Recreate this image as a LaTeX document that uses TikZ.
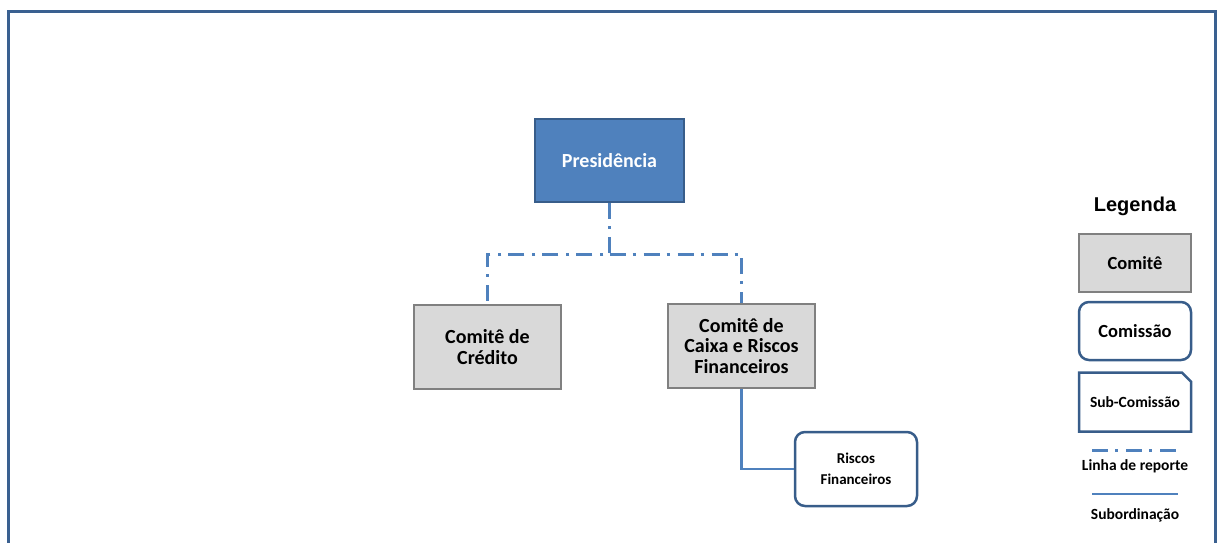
\documentclass[tikz,border=0pt]{standalone}
\usepackage{fontspec}
\setmainfont{Carlito}
\newfontfamily\legfont{Liberation Sans}
\usetikzlibrary{shapes.misc}

\definecolor{presfill}{HTML}{4F81BD}
\definecolor{presline}{HTML}{385D8A}
\definecolor{comfill}{HTML}{D9D9D9}
\definecolor{comline}{HTML}{808080}
\definecolor{linkblue}{HTML}{4F81BD}
\definecolor{framebl}{HTML}{3A6090}

\tikzset{
	comite/.style={rectangle, draw=comline, fill=comfill, line width=2.5pt, align=center, font=\bfseries\fontsize{20}{20.5}\selectfont},
	comissao/.style={rectangle, rounded corners=10pt, draw=presline, fill=white, line width=2.5pt, align=center, font=\bfseries},
	subcom/.style={chamfered rectangle, chamfered rectangle corners={north east}, chamfered rectangle xsep=6pt, draw=presline, fill=white, line width=2.5pt, align=center, font=\bfseries},
	reporte/.style={linkblue, line width=3pt, dash pattern=on 16pt off 7pt on 3pt off 8pt},
	subord/.style={linkblue, line width=2.5pt}
}

\begin{document}
\begin{tikzpicture}[x=1pt, y=-1pt]
	
	\useasboundingbox (0, 0) rectangle (1222, 542);
	\draw [framebl, line width=3pt] (8, 560) -- (8, 11) -- (1215, 11) -- (1215, 560);
	
	\node (pres) at (609.5, 160.5) [rectangle, draw=presline, fill=presfill, line width=2.5pt, minimum width=149pt, minimum height=83pt, text=white, font=\bfseries\fontsize{20}{24}\selectfont] {Presidência};
	
	\node (cred) at (487.5, 347) [comite, minimum width=147pt, minimum height=84pt] {Comitê de\\Crédito};
	\node (caixa) at (741.5, 346) [comite, minimum width=147pt, minimum height=84pt] {Comitê de\\Caixa e Riscos\\Financeiros};
	
	\node (riscos) at (856, 469) [comissao, minimum width=122pt, minimum height=74pt, font=\bfseries\fontsize{15}{21}\selectfont] {Riscos\\Financeiros};
	
	\coordinate (j0) at (609.5, 254);
	\draw [reporte] (pres.south) -- (j0) -- (j0 -| cred.north) -- (cred.north);
	\draw [reporte] (j0) -- (j0 -| caixa.north) -- (caixa.north);
	
	\draw [subord] (caixa.south) |- (riscos.west);
	
	% legenda
	\node (leg) at (1135, 206) [font=\legfont\bfseries\fontsize{20}{24}\selectfont] {Legenda};
	\node (lcom) at (1135, 263) [comite, minimum width=112pt, minimum height=58pt, font=\bfseries\fontsize{18.5}{22}\selectfont] {Comitê};
	\node (lcms) at (1135, 331) [comissao, minimum width=112pt, minimum height=58pt, font=\bfseries\fontsize{18.5}{22}\selectfont] {Comissão};
	\node (lsub) at (1135, 402) [subcom, minimum width=112pt, minimum height=59pt, font=\bfseries\fontsize{15.5}{18}\selectfont] {Sub-Comissão};
	
	\coordinate (r1) at (1092, 450);
	\coordinate (r2) at (1178, 450);
	\draw [reporte] (r1) -- (r2);
	\node (lrep) at (1135, 466) [font=\bfseries\fontsize{15.5}{18}\selectfont] {Linha de reporte};
	
	\coordinate (s1) at (1092, 494);
	\coordinate (s2) at (1178, 494);
	\draw [subord] (s1) -- (s2);
	\node (lsubo) at (1135, 515) [font=\bfseries\fontsize{15.5}{18}\selectfont] {Subordinação};
	
\end{tikzpicture}
\end{document}
